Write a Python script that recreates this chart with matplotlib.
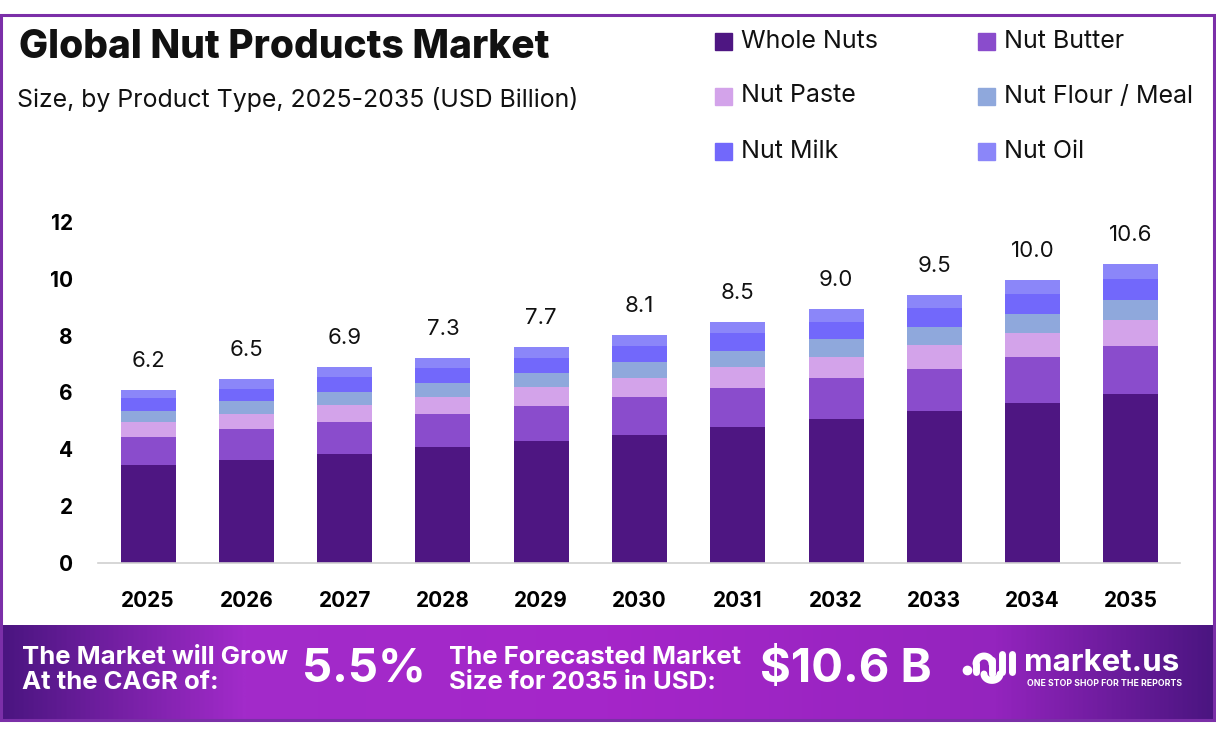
import numpy as np
import matplotlib.pyplot as plt
from matplotlib.patches import Rectangle
from matplotlib.colors import LinearSegmentedColormap

plt.rcParams['font.family'] = ['Inter', 'DejaVu Sans']

# Data (USD Billion)
years = ['2025', '2026', '2027', '2028', '2029', '2030', '2031', '2032', '2033', '2034', '2035']
whole_nuts = [3.45, 3.64, 3.85, 4.07, 4.28, 4.52, 4.78, 5.05, 5.34, 5.64, 5.94]
nut_butter = [0.99, 1.06, 1.11, 1.16, 1.23, 1.31, 1.37, 1.45, 1.50, 1.61, 1.70]
nut_paste = [0.52, 0.53, 0.59, 0.60, 0.68, 0.67, 0.75, 0.74, 0.83, 0.83, 0.91]
nut_flour = [0.39, 0.46, 0.46, 0.50, 0.49, 0.57, 0.57, 0.64, 0.62, 0.68, 0.71]
nut_milk = [0.47, 0.45, 0.54, 0.53, 0.53, 0.57, 0.61, 0.61, 0.67, 0.71, 0.74]
nut_oil = [0.27, 0.33, 0.35, 0.34, 0.38, 0.38, 0.39, 0.45, 0.47, 0.49, 0.53]
totals = [6.2, 6.5, 6.9, 7.3, 7.7, 8.1, 8.5, 9.0, 9.5, 10.0, 10.6]

series_names = ['Whole Nuts', 'Nut Butter', 'Nut Paste', 'Nut Flour / Meal', 'Nut Milk', 'Nut Oil']
series_vals = [whole_nuts, nut_butter, nut_paste, nut_flour, nut_milk, nut_oil]
colors = ['#4e1682', '#8a4ccc', '#d3a3ea', '#8fa8dc', '#7268fb', '#8b86f9']

W, H = 1216, 737
fig = plt.figure(figsize=(W / 100, H / 100), dpi=100)


def fx(x):
    return x / W


def fy(y):
    return 1 - y / H


# purple frame
fig.patches.append(Rectangle((fx(1), fy(720)), fx(1213), fy(15) - fy(720),
                             transform=fig.transFigure, fill=False,
                             edgecolor='#7b2fa8', lw=2.2, zorder=0))

# main axes
ax = fig.add_axes([fx(98), fy(563), fx(1180) - fx(98), fy(222) - fy(563)])
x = np.arange(len(years))
bottom = np.zeros(len(years))
for name, vals, col in zip(series_names, series_vals, colors):
    ax.bar(x, vals, width=0.56, bottom=bottom, color=col, label=name, zorder=2)
    bottom += np.array(vals)

for xi, top, lab in zip(x, bottom, totals):
    ax.annotate(f'{lab:.1f}', (xi, top), xytext=(0, 21), textcoords='offset points',
                ha='center', va='center', fontsize=16, color='#111111')

ax.set_xlim(-0.51, 10.5)
ax.set_ylim(0, 12)
ax.set_yticks([0, 2, 4, 6, 8, 10, 12])
ax.set_xticks(x)
ax.set_xticklabels(years)
ax.tick_params(axis='both', length=0, labelsize=15)
ax.tick_params(axis='y', pad=18)
ax.tick_params(axis='x', pad=20)
for lbl in ax.get_xticklabels() + ax.get_yticklabels():
    lbl.set_fontweight('bold')
for side in ['top', 'right', 'left']:
    ax.spines[side].set_visible(False)
ax.spines['bottom'].set_color('#d0d0d0')
ax.spines['bottom'].set_linewidth(1.2)

# titles
fig.text(fx(19), fy(47), 'Global Nut Products Market', fontsize=28, fontweight='heavy',
         ha='left', va='center', color='#111111')
fig.text(fx(17), fy(100), 'Size, by Product Type, 2025-2035 (USD Billion)', fontsize=17.9,
         ha='left', va='center', color='#111111')

# legend
leg_cols = [715, 978]
leg_rows = [41, 96, 151]
for i, (name, col) in enumerate(zip(series_names, colors)):
    lx = leg_cols[i % 2]
    ly = leg_rows[i // 2]
    fig.patches.append(Rectangle((fx(lx), fy(ly + 8.5)), fx(17), fy(0) - fy(17),
                                 transform=fig.transFigure, color=col))
    fig.text(fx(lx + 26), fy(ly), name, fontsize=18, ha='left', va='center', color='#111111')

# bottom banner with gradient
bax = fig.add_axes([0, fy(719), 1, fy(625) - fy(719)])
cmap = LinearSegmentedColormap.from_list('banner', [
    (0.0, '#4a1580'), (0.2, '#a22bca'), (0.5, '#a526c9'),
    (0.82, '#9424be'), (1.0, '#4a1580')])
grad = np.linspace(0, 1, 512).reshape(1, -1)
bax.imshow(grad, aspect='auto', cmap=cmap, extent=[0, 1, 0, 1])
bax.set_axis_off()

fig.text(fx(22), fy(670), 'The Market will Grow\nAt the CAGR of:', fontsize=18.5,
         fontweight='bold', color='white', ha='left', va='center', linespacing=1.15)
fig.text(fx(302), fy(670), '5.5%', fontsize=34, fontweight='bold', color='white',
         ha='left', va='center')
fig.text(fx(449), fy(670), 'The Forecasted Market\nSize for 2035 in USD:', fontsize=18.5,
         fontweight='bold', color='white', ha='left', va='center', linespacing=1.15)
fig.text(fx(760), fy(670), '$10.6 B', fontsize=34, fontweight='bold', color='white',
         ha='left', va='center')

# logo
fig.text(fx(1024), fy(663), 'market.us', fontsize=22.5, fontweight='bold', color='white',
         ha='left', va='center')
fig.text(fx(1027), fy(683), 'ONE STOP SHOP FOR THE REPORTS', fontsize=6.3,
         fontweight='bold', color='white', ha='left', va='center')
lax = fig.add_axes([fx(960), fy(690), fx(60), fy(640) - fy(690)])
lax.set_xlim(0, 60)
lax.set_ylim(50, 0)
lax.set_axis_off()
lax.plot([7], [30], 'o', color='white', ms=6)
t = np.linspace(np.pi, 2 * np.pi, 30)
lax.plot(24 + 8 * np.cos(t), 24 + 8 * np.sin(t), color='white', lw=5, solid_capstyle='round')
lax.plot([16, 16], [24, 32], color='white', lw=5, solid_capstyle='round')
lax.plot(40 - 8 + 8 * np.cos(t[::-1] - np.pi), 34 + 8 * np.sin(t - np.pi) * 0.8,
         color='white', lw=5, solid_capstyle='round')
lax.plot([32, 32], [20, 34], color='white', lw=5, solid_capstyle='round')
lax.plot([42, 42], [14, 32], color='white', lw=5, solid_capstyle='round')
lax.plot([52, 52], [14, 32], color='white', lw=5, solid_capstyle='round')

fig.savefig('out.png', dpi=100)
